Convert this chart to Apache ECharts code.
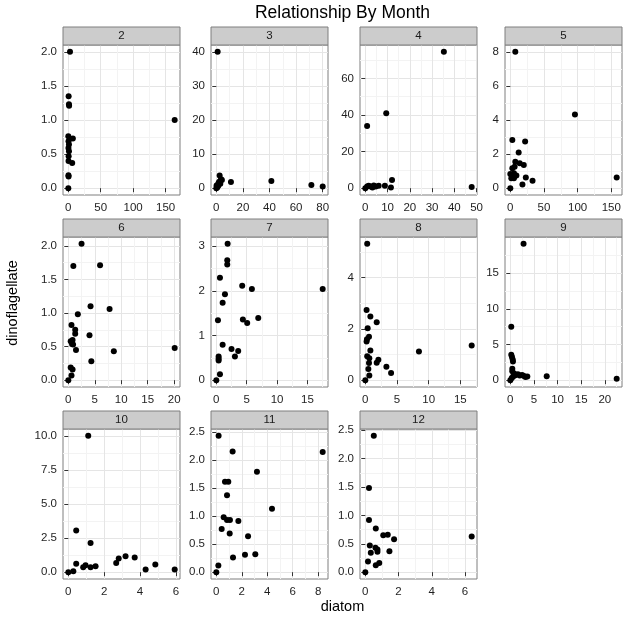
<!DOCTYPE html>
<html>
<head>
<meta charset="utf-8">
<title>Relationship By Month</title>
<script src="https://cdn.jsdelivr.net/npm/echarts@6/dist/echarts.min.js"></script>
<style>
  html, body { margin: 0; padding: 0; background: #fff; }
  #chart { width: 624px; height: 618px; }
</style>
</head>
<body>
<div id="chart"></div>
<script>
// month labels shown in the strips
const months = ['2', '3', '4', '5', '6', '7', '8', '9', '10', '11', '12'];

// diatom (x) / dinoflagellate (y) per month
const diatom_2 = [2.6, 0.5, 1.0, 1.2, 164, 0, 7, 0.3, 1.0, 0.2, 1.0, 0.5, 0.3, 6, 0.2, 0.4, 0];
const dino_2 = [2.0, 1.35, 1.23, 1.21, 1.0, 0.76, 0.73, 0.69, 0.64, 0.59, 0.54, 0.47, 0.40, 0.37, 0.19, 0.17, 0];

const diatom_3 = [1, 2.5, 4.2, 11, 41.4, 71.5, 80, 0.5, 1.2, 1.7, 0, 0.7, 2.2, 3, 1.5, 0.2, 3.5];
const dino_3 = [40, 3.7, 2.4, 1.8, 2.1, 0.9, 0.5, 0.5, 1.0, 1.5, 0, 0.2, 1.9, 1.3, 0.7, 0.8, 2.6];

const diatom_4 = [35.3, 9.4, 0.8, 12, 11.5, 8.8, 0, 0.8, 1.5, 2.4, 3.2, 3.8, 4.7, 6, 47.8];
const dino_4 = [74.5, 41, 34, 4.5, 0.4, 1.3, 0, 0.9, 1.3, 0.9, 0.4, 1.4, 0.9, 1.3, 0.7];

const diatom_5 = [7.4, 96, 158, 3, 22, 12.4, 7.4, 14, 20, 3, 0, 5.4, 9, 1.5, 5.4, 23, 33, 18, 0, 6.4];
const dino_5 = [8.0, 4.33, 0.62, 2.82, 2.74, 2.1, 1.55, 1.46, 1.36, 1.17, 0.83, 0.87, 0.74, 0.58, 0.58, 0.62, 0.43, 0.21, 0, 1.26];

const diatom_6 = [2.5, 0.95, 6, 4.2, 7.8, 1.8, 0.6, 1.3, 1.3, 4, 0.8, 0.45, 0.7, 0.9, 1.45, 8.6, 20.1, 4.35, 0.45, 0.8, 0.6, 0];
const dino_6 = [2.03, 1.70, 1.71, 1.10, 1.06, 0.98, 0.82, 0.75, 0.69, 0.67, 0.60, 0.58, 0.54, 0.53, 0.45, 0.43, 0.48, 0.28, 0.19, 0.16, 0.07, 0];

const diatom_7 = [1.86, 1.8, 1.8, 0.6, 5.85, 4.26, 17.5, 1.42, 1.04, 6.9, 4.37, 5.08, 0.27, 1.04, 2.5, 3.6, 3.06, 0.38, 0.38, 0.38, 0.6, 0];
const dino_7 = [3.05, 2.68, 2.59, 2.29, 2.04, 2.11, 2.04, 1.92, 1.73, 1.39, 1.36, 1.28, 1.34, 0.79, 0.70, 0.65, 0.53, 0.53, 0.48, 0.44, 0.13, 0];

const diatom_8 = [0.3, 0.2, 0.8, 1.8, 0.37, 0.58, 0.26, 0.2, 0.8, 8.47, 0.3, 0.63, 2.06, 1.8, 0.58, 3.33, 4.07, 0.48, 0.63, 0, 16.8];
const dino_8 = [5.32, 2.74, 2.48, 2.26, 2.03, 1.69, 1.60, 1.51, 1.16, 1.12, 0.93, 0.86, 0.80, 0.68, 0.67, 0.52, 0.28, 0.44, 0.18, 0, 1.35];

const diatom_9 = [2.8, 0.2, 0.2, 0.35, 0.5, 0.56, 0.42, 0.42, 7.7, 22.5, 0, 0.3, 0.6, 1.05, 1.6, 2, 2.5, 2.9, 3.2, 3.6, 0.8];
const dino_9 = [19.1, 7.5, 3.56, 3.24, 2.9, 2.6, 1.6, 1.25, 0.56, 0.19, 0, 0.3, 0.5, 0.7, 0.83, 0.65, 0.74, 0.6, 0.46, 0.5, 0.93];

const diatom_10 = [1.11, 0.44, 1.24, 0.44, 0, 0.28, 0.83, 0.96, 1.24, 1.52, 2.67, 2.81, 3.19, 3.7, 4.31, 4.85, 5.93];
const dino_10 = [10.0, 3.06, 2.14, 0.61, 0, 0.07, 0.36, 0.51, 0.36, 0.44, 0.68, 1.0, 1.17, 1.07, 0.19, 0.56, 0.19];

const diatom_11 = [0.18, 1.28, 3.19, 0.68, 0.94, 0.84, 4.37, 0.58, 0.84, 1.07, 1.73, 0.42, 1.05, 2.49, 8.35, 1.31, 2.25, 3.06, 0.16, 0];
const dino_11 = [2.43, 2.15, 1.79, 1.61, 1.61, 1.37, 1.13, 0.98, 0.93, 0.93, 0.91, 0.77, 0.69, 0.64, 2.14, 0.26, 0.31, 0.32, 0.12, 0];

const diatom_12 = [0.51, 0.22, 0.22, 0.63, 1.08, 1.35, 1.73, 0.27, 0.61, 0.73, 1.45, 0.73, 0.33, 0.16, 0.84, 0.63, 0, 6.4];
const dino_12 = [2.40, 1.48, 0.92, 0.77, 0.65, 0.66, 0.58, 0.47, 0.43, 0.40, 0.37, 0.36, 0.34, 0.19, 0.16, 0.12, 0, 0.63];

// tick labels per panel (free scales)
const xTicks_2 = [0, 50, 100, 150];        const yTicks_2 = [0, 0.5, 1, 1.5, 2];
const xTicks_3 = [0, 20, 40, 60, 80];      const yTicks_3 = [0, 10, 20, 30, 40];
const xTicks_4 = [0, 10, 20, 30, 40, 50];  const yTicks_4 = [0, 20, 40, 60];
const xTicks_5 = [0, 50, 100, 150];        const yTicks_5 = [0, 2, 4, 6, 8];
const xTicks_6 = [0, 5, 10, 15, 20];       const yTicks_6 = [0, 0.5, 1, 1.5, 2];
const xTicks_7 = [0, 5, 10, 15];           const yTicks_7 = [0, 1, 2, 3];
const xTicks_8 = [0, 5, 10, 15];           const yTicks_8 = [0, 2, 4];
const xTicks_9 = [0, 5, 10, 15, 20];       const yTicks_9 = [0, 5, 10, 15];
const xTicks_10 = [0, 2, 4, 6];            const yTicks_10 = [0, 2.5, 5, 7.5, 10];
const xTicks_11 = [0, 2, 4, 6, 8];         const yTicks_11 = [0, 0.5, 1, 1.5, 2, 2.5];
const xTicks_12 = [0, 2, 4, 6];            const yTicks_12 = [0, 0.5, 1, 1.5, 2, 2.5];

const panels = [
  [diatom_2, dino_2, xTicks_2, yTicks_2],
  [diatom_3, dino_3, xTicks_3, yTicks_3],
  [diatom_4, dino_4, xTicks_4, yTicks_4],
  [diatom_5, dino_5, xTicks_5, yTicks_5],
  [diatom_6, dino_6, xTicks_6, yTicks_6],
  [diatom_7, dino_7, xTicks_7, yTicks_7],
  [diatom_8, dino_8, xTicks_8, yTicks_8],
  [diatom_9, dino_9, xTicks_9, yTicks_9],
  [diatom_10, dino_10, xTicks_10, yTicks_10],
  [diatom_11, dino_11, xTicks_11, yTicks_11],
  [diatom_12, dino_12, xTicks_12, yTicks_12],
];

// layout (px)
const colLeft = [63, 211, 360, 505];
const rowTop = [45, 237, 429];
const panelW = 117;
const panelH = 150;
const stripH = 18;
const FONT = '"Liberation Sans", Arial, sans-serif';

// ggplot-style 5% expansion
function expand(vals) {
  const lo = Math.min(...vals);
  const hi = Math.max(...vals);
  const pad = (hi - lo) * 0.05;
  return [lo - pad, hi + pad];
}

function minorsOf(ticks, range) {
  const step = ticks[1] - ticks[0];
  const out = [];
  for (let k = -1; k < ticks.length; k++) {
    const v = ticks[0] + step * (k + 0.5);
    if (v > range[0] && v < range[1]) out.push(v);
  }
  return out;
}

function decimalsOf(ticks) {
  return ticks.some((t) => Math.round(t) !== t) ? 1 : 0;
}

const chart = echarts.init(document.getElementById('chart'), null, { renderer: 'canvas' });

const grid = [];
const majorX = [];
const majorY = [];
const minorX = [];
const minorY = [];
const series = [];
const graphic = [];

panels.forEach(([xs, ys, xt, yt], i) => {
  const left = colLeft[i % 4];
  const top = rowTop[Math.floor(i / 4)];
  const xr = expand(xs);
  const yr = expand(ys);
  const xd = decimalsOf(xt);
  const yd = decimalsOf(yt);

  grid.push({
    left, top, width: panelW, height: panelH,
    show: true,
    backgroundColor: '#ffffff',
    borderColor: '#7f7f7f',
    borderWidth: 1,
    outerBoundsMode: 'none',
  });

  majorX.push({
    type: 'value', gridIndex: i, position: 'bottom',
    min: xr[0], max: xr[1],
    axisLine: { show: false },
    axisTick: { show: true, length: 4, customValues: xt, lineStyle: { color: '#333' } },
    axisLabel: {
      customValues: xt, margin: 7, fontSize: 11.5, fontFamily: FONT, color: '#1f1f1f',
      formatter: (v) => v.toFixed(xd),
    },
    splitLine: { show: true, lineStyle: { color: '#e5e5e5', width: 1 } },
  });
  majorY.push({
    type: 'value', gridIndex: i, position: 'left',
    min: yr[0], max: yr[1],
    axisLine: { show: false },
    axisTick: { show: true, length: 4, customValues: yt, lineStyle: { color: '#333' } },
    axisLabel: {
      customValues: yt, margin: 6, fontSize: 11.5, fontFamily: FONT, color: '#1f1f1f',
      formatter: (v) => v.toFixed(yd),
    },
    splitLine: { show: true, lineStyle: { color: '#e5e5e5', width: 1 } },
  });

  // minor grid lines live on hidden twin axes
  minorX.push({
    type: 'value', gridIndex: i, position: 'top',
    min: xr[0], max: xr[1],
    axisLine: { show: false },
    axisTick: { show: false, customValues: minorsOf(xt, xr) },
    axisLabel: { show: false },
    splitLine: { show: true, lineStyle: { color: '#f3f3f3', width: 1 } },
  });
  minorY.push({
    type: 'value', gridIndex: i, position: 'right',
    min: yr[0], max: yr[1],
    axisLine: { show: false },
    axisTick: { show: false, customValues: minorsOf(yt, yr) },
    axisLabel: { show: false },
    splitLine: { show: true, lineStyle: { color: '#f3f3f3', width: 1 } },
  });

  series.push({
    type: 'scatter',
    xAxisIndex: i,
    yAxisIndex: i,
    symbolSize: 6,
    itemStyle: { color: '#000000', opacity: 1 },
    data: xs.map((x, k) => [x, ys[k]]),
    z: 5,
  });

  // facet strip
  graphic.push({
    type: 'rect',
    shape: { x: left, y: top - stripH, width: panelW, height: stripH },
    style: { fill: '#cccccc', stroke: '#7f7f7f', lineWidth: 1 },
    z: 10,
  });
  graphic.push({
    type: 'text',
    x: left + panelW / 2,
    y: top - stripH / 2,
    style: {
      text: months[i], fill: '#1a1a1a', fontSize: 11.5, fontFamily: FONT,
      align: 'center', verticalAlign: 'middle',
    },
    z: 11,
  });
});

const panelMidX = (colLeft[0] + colLeft[3] + panelW) / 2;

graphic.push({
  type: 'text', x: panelMidX, y: 13,
  style: {
    text: 'Relationship By Month', fill: '#000', fontSize: 17.5, fontFamily: FONT,
    align: 'center', verticalAlign: 'middle',
  },
});
graphic.push({
  type: 'text', x: panelMidX, y: 607,
  style: {
    text: 'diatom', fill: '#000', fontSize: 14.5, fontFamily: FONT,
    align: 'center', verticalAlign: 'middle',
  },
});
graphic.push({
  type: 'text', x: 13, y: (rowTop[0] - stripH + rowTop[2] + panelH) / 2,
  rotation: Math.PI / 2,
  style: {
    text: 'dinoflagellate', fill: '#000', fontSize: 14.5, fontFamily: FONT,
    align: 'center', verticalAlign: 'middle',
  },
});

chart.setOption({
  animation: false,
  backgroundColor: '#ffffff',
  grid,
  xAxis: majorX.concat(minorX),
  yAxis: majorY.concat(minorY),
  series,
  graphic,
});
</script>
</body>
</html>
